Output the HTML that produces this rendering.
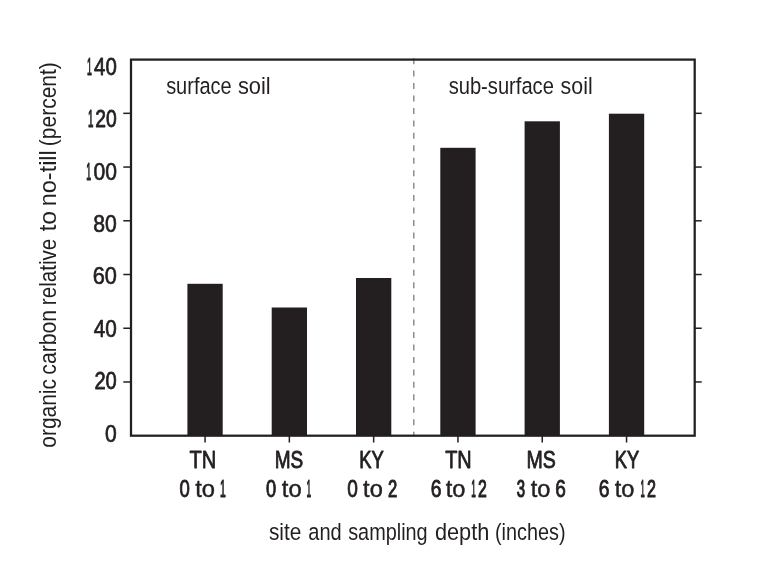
<!DOCTYPE html>
<html lang="en">
<head>
<meta charset="utf-8">
<title>Organic carbon relative to no-till</title>
<style>
html,body{margin:0;padding:0;background:#fff;}
body{width:768px;height:582px;overflow:hidden;}
svg{display:block;}
text{font-family:"Liberation Sans",sans-serif;font-size:24.5px;fill:#231f20;white-space:pre;}
text{stroke:#231f20;stroke-width:0;stroke-linejoin:round;}
</style>
</head>
<body>
<svg width="768" height="582" viewBox="0 0 768 582">
<rect x="0" y="0" width="768" height="582" fill="#ffffff"/>
<rect x="187.4" y="283.8" width="35.3" height="151.9" fill="#231f20"/>
<rect x="271.7" y="307.5" width="35.3" height="128.2" fill="#231f20"/>
<rect x="356.0" y="278.0" width="35.3" height="157.7" fill="#231f20"/>
<rect x="440.3" y="147.8" width="35.3" height="287.9" fill="#231f20"/>
<rect x="524.6" y="121.3" width="35.3" height="314.4" fill="#231f20"/>
<rect x="608.9" y="113.7" width="35.3" height="322.0" fill="#231f20"/>
<line x1="413.8" y1="58.15" x2="413.8" y2="435.7" stroke="#7b7c7f" stroke-width="1.3" stroke-dasharray="6 6.45"/>
<rect x="131.0" y="59.6" width="563.7" height="376.1" fill="none" stroke="#231f20" stroke-width="2.25"/>
<line x1="123.3" y1="113.33" x2="131.0" y2="113.33" stroke="#231f20" stroke-width="1.5"/>
<line x1="694.7" y1="113.33" x2="701.7" y2="113.33" stroke="#231f20" stroke-width="1.5"/>
<line x1="123.3" y1="167.06" x2="131.0" y2="167.06" stroke="#231f20" stroke-width="1.5"/>
<line x1="694.7" y1="167.06" x2="701.7" y2="167.06" stroke="#231f20" stroke-width="1.5"/>
<line x1="123.3" y1="220.79" x2="131.0" y2="220.79" stroke="#231f20" stroke-width="1.5"/>
<line x1="694.7" y1="220.79" x2="701.7" y2="220.79" stroke="#231f20" stroke-width="1.5"/>
<line x1="123.3" y1="274.51" x2="131.0" y2="274.51" stroke="#231f20" stroke-width="1.5"/>
<line x1="694.7" y1="274.51" x2="701.7" y2="274.51" stroke="#231f20" stroke-width="1.5"/>
<line x1="123.3" y1="328.24" x2="131.0" y2="328.24" stroke="#231f20" stroke-width="1.5"/>
<line x1="694.7" y1="328.24" x2="701.7" y2="328.24" stroke="#231f20" stroke-width="1.5"/>
<line x1="123.3" y1="381.97" x2="131.0" y2="381.97" stroke="#231f20" stroke-width="1.5"/>
<line x1="694.7" y1="381.97" x2="701.7" y2="381.97" stroke="#231f20" stroke-width="1.5"/>
<line x1="205.05" y1="435.7" x2="205.05" y2="442.5" stroke="#231f20" stroke-width="1.5"/>
<line x1="289.35" y1="435.7" x2="289.35" y2="442.5" stroke="#231f20" stroke-width="1.5"/>
<line x1="373.65" y1="435.7" x2="373.65" y2="442.5" stroke="#231f20" stroke-width="1.5"/>
<line x1="457.95" y1="435.7" x2="457.95" y2="442.5" stroke="#231f20" stroke-width="1.5"/>
<line x1="542.25" y1="435.7" x2="542.25" y2="442.5" stroke="#231f20" stroke-width="1.5"/>
<line x1="626.55" y1="435.7" x2="626.55" y2="442.5" stroke="#231f20" stroke-width="1.5"/>
<text y="74.80" class="b"><tspan x="87.03" textLength="4.90" lengthAdjust="spacingAndGlyphs" stroke-width="1.20">1</tspan><tspan x="94.11" textLength="22.70" lengthAdjust="spacingAndGlyphs" stroke-width="0.76">40</tspan></text>
<text y="127.20" class="b"><tspan x="87.96" textLength="5.42" lengthAdjust="spacingAndGlyphs" stroke-width="1.20">1</tspan><tspan x="95.26" textLength="21.46" lengthAdjust="spacingAndGlyphs" stroke-width="0.86">20</tspan></text>
<text y="179.60" class="b"><tspan x="86.33" textLength="4.90" lengthAdjust="spacingAndGlyphs" stroke-width="1.20">1</tspan><tspan x="93.43" textLength="23.44" lengthAdjust="spacingAndGlyphs" stroke-width="0.70">00</tspan></text>
<text y="232.00" class="b"><tspan x="93.33" textLength="23.55" lengthAdjust="spacingAndGlyphs" stroke-width="0.69">80</tspan></text>
<text y="284.40" class="b"><tspan x="92.71" textLength="24.22" lengthAdjust="spacingAndGlyphs" stroke-width="0.64">60</tspan></text>
<text y="336.80" class="b"><tspan x="93.79" textLength="23.05" lengthAdjust="spacingAndGlyphs" stroke-width="0.73">40</tspan></text>
<text y="389.20" class="b"><tspan x="94.38" textLength="22.41" lengthAdjust="spacingAndGlyphs" stroke-width="0.79">20</tspan></text>
<text y="441.60" class="b"><tspan x="105.12" textLength="11.75" lengthAdjust="spacingAndGlyphs" stroke-width="0.70">0</tspan></text>
<text y="468.20" class="b"><tspan x="189.44" textLength="26.80" lengthAdjust="spacingAndGlyphs" stroke-width="0.79">TN</tspan></text>
<text y="468.20" class="b"><tspan x="274.69" textLength="28.49" lengthAdjust="spacingAndGlyphs" stroke-width="0.89">MS</tspan></text>
<text y="468.20" class="b"><tspan x="359.16" textLength="24.57" lengthAdjust="spacingAndGlyphs" stroke-width="0.94">KY</tspan></text>
<text y="468.20" class="b"><tspan x="445.21" textLength="26.51" lengthAdjust="spacingAndGlyphs" stroke-width="0.81">TN</tspan></text>
<text y="468.20" class="b"><tspan x="526.52" textLength="29.31" lengthAdjust="spacingAndGlyphs" stroke-width="0.84">MS</tspan></text>
<text y="468.20" class="b"><tspan x="614.87" textLength="24.46" lengthAdjust="spacingAndGlyphs" stroke-width="0.95">KY</tspan></text>
<text y="496.60" class="b"><tspan x="179.44" textLength="10.32" lengthAdjust="spacingAndGlyphs" stroke-width="0.93">0</tspan> <tspan x="195.17" textLength="19.79" lengthAdjust="spacingAndGlyphs" stroke-width="0.46">to</tspan> <tspan x="220.10" textLength="5.80" lengthAdjust="spacingAndGlyphs" stroke-width="1.20">1</tspan></text>
<text y="496.60" class="b"><tspan x="265.96" textLength="10.18" lengthAdjust="spacingAndGlyphs" stroke-width="0.95">0</tspan> <tspan x="281.86" textLength="19.91" lengthAdjust="spacingAndGlyphs" stroke-width="0.45">to</tspan> <tspan x="306.56" textLength="4.64" lengthAdjust="spacingAndGlyphs" stroke-width="1.20">1</tspan></text>
<text y="496.60" class="b"><tspan x="347.20" textLength="10.61" lengthAdjust="spacingAndGlyphs" stroke-width="0.88">0</tspan> <tspan x="363.08" textLength="19.67" lengthAdjust="spacingAndGlyphs" stroke-width="0.48">to</tspan> <tspan x="388.01" textLength="9.28" lengthAdjust="spacingAndGlyphs" stroke-width="1.10">2</tspan></text>
<text y="496.60" class="b"><tspan x="430.64" textLength="10.78" lengthAdjust="spacingAndGlyphs" stroke-width="0.86">6</tspan> <tspan x="445.68" textLength="19.67" lengthAdjust="spacingAndGlyphs" stroke-width="0.48">to</tspan> <tspan x="471.26" textLength="4.64" lengthAdjust="spacingAndGlyphs" stroke-width="1.20">1</tspan><tspan x="477.99" textLength="8.82" lengthAdjust="spacingAndGlyphs" stroke-width="1.17">2</tspan></text>
<text y="496.60" class="b"><tspan x="516.73" textLength="8.33" lengthAdjust="spacingAndGlyphs" stroke-width="1.20">3</tspan> <tspan x="530.68" textLength="19.67" lengthAdjust="spacingAndGlyphs" stroke-width="0.48">to</tspan> <tspan x="555.27" textLength="10.63" lengthAdjust="spacingAndGlyphs" stroke-width="0.88">6</tspan></text>
<text y="496.60" class="b"><tspan x="598.84" textLength="10.78" lengthAdjust="spacingAndGlyphs" stroke-width="0.86">6</tspan> <tspan x="614.68" textLength="19.67" lengthAdjust="spacingAndGlyphs" stroke-width="0.48">to</tspan> <tspan x="640.52" textLength="4.26" lengthAdjust="spacingAndGlyphs" stroke-width="1.20">1</tspan><tspan x="646.96" textLength="8.98" lengthAdjust="spacingAndGlyphs" stroke-width="1.15">2</tspan></text>
<text y="93.70" class="l"><tspan x="166.14" textLength="65.54" lengthAdjust="spacingAndGlyphs">surface</tspan> <tspan x="237.89" textLength="32.77" lengthAdjust="spacingAndGlyphs">soil</tspan></text>
<text y="93.60" class="l"><tspan x="448.64" textLength="105.26" lengthAdjust="spacingAndGlyphs">sub-surface</tspan> <tspan x="560.61" textLength="32.02" lengthAdjust="spacingAndGlyphs">soil</tspan></text>
<text y="539.80" class="l"><tspan x="268.92" textLength="32.40" lengthAdjust="spacingAndGlyphs">site</tspan> <tspan x="308.25" textLength="33.44" lengthAdjust="spacingAndGlyphs">and</tspan> <tspan x="348.15" textLength="79.53" lengthAdjust="spacingAndGlyphs">sampling</tspan> <tspan x="434.89" textLength="54.43" lengthAdjust="spacingAndGlyphs">depth</tspan> <tspan x="494.97" textLength="70.56" lengthAdjust="spacingAndGlyphs">(inches)</tspan></text>
<text y="0.00" class="l" transform="translate(55.7 450.0) rotate(-90)"><tspan x="2.32" textLength="68.63" lengthAdjust="spacingAndGlyphs">organic</tspan> <tspan x="75.30" textLength="64.83" lengthAdjust="spacingAndGlyphs">carbon</tspan> <tspan x="144.83" textLength="66.49" lengthAdjust="spacingAndGlyphs">relative</tspan> <tspan x="218.42" textLength="20.72" lengthAdjust="spacingAndGlyphs">to</tspan> <tspan x="243.85" textLength="55.92" lengthAdjust="spacingAndGlyphs">no-till</tspan> <tspan x="303.85" textLength="83.95" lengthAdjust="spacingAndGlyphs">(percent)</tspan></text>
</svg>
</body>
</html>
